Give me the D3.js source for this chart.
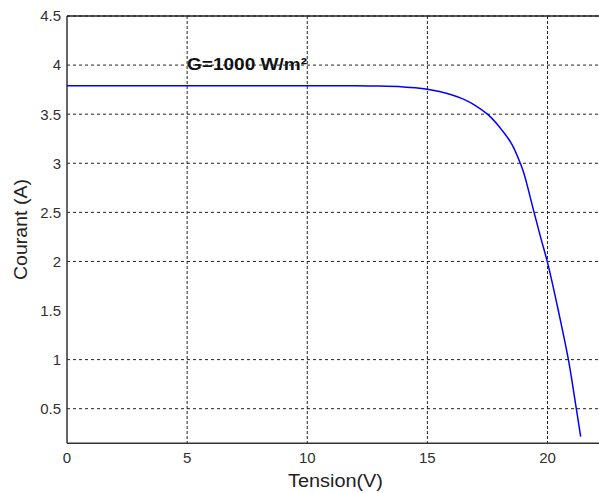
<!DOCTYPE html>
<html>
<head>
<meta charset="utf-8">
<script src="https://cdn.jsdelivr.net/npm/d3@7"></script>
<style>
  body { margin: 0; background: #fff; }
  svg { display: block; font-family: "Liberation Sans", Arial, sans-serif; }
</style>
</head>
<body>
<div id="graph"></div>
<script>
// I-V curve of the panel
let tension = [0, 5, 10, 12, 13, 14, 14.5, 15, 15.5, 16, 16.5, 17, 17.5, 18, 18.5, 18.87, 19.0, 19.15, 19.43, 19.72, 20.02, 20.45, 20.87, 21.2, 21.38];
let courant = [3.79, 3.79, 3.79, 3.789, 3.786, 3.778, 3.77, 3.755, 3.73, 3.698, 3.653, 3.588, 3.5, 3.37, 3.2, 3.0, 2.91, 2.78, 2.51, 2.24, 1.97, 1.5, 1.0, 0.5, 0.215];

let xTicks = [0, 5, 10, 15, 20];
let xGrid = [5, 10, 15, 20];
let yTicks = [0.5, 1, 1.5, 2, 2.5, 3, 3.5, 4, 4.5];
let yGrid = [0.5, 1, 2, 2.5, 3, 3.5, 4, 4.5];   // the 1.5 line is missing in the original

let label = "G=1000 W/m²";

let width = 599,
    height = 493;

let x = d3.scaleLinear().domain([0, 20]).range([67, 547.5]);
let y = d3.scaleLinear().domain([0.5, 4.5]).range([408.7, 16]);
let yBottom = y(0.147);

let svg = d3.select("#graph").append("svg")
    .attr("width", width)
    .attr("height", height);

// grid
svg.append("g").selectAll("line")
    .data(yGrid)
    .enter().append("line")
    .attr("x1", x(0))
    .attr("x2", width)
    .attr("y1", d => y(d))
    .attr("y2", d => y(d))
    .attr("stroke", "#222")
    .attr("stroke-width", 1)
    .attr("stroke-dasharray", "3,3");

svg.append("g").selectAll("line")
    .data(xGrid)
    .enter().append("line")
    .attr("x1", d => x(d))
    .attr("x2", d => x(d))
    .attr("y1", y(4.5))
    .attr("y2", yBottom)
    .attr("stroke", "#222")
    .attr("stroke-width", 1)
    .attr("stroke-dasharray", "3,2");

// box
svg.append("line")
    .attr("x1", x(0)).attr("x2", x(0))
    .attr("y1", y(4.5)).attr("y2", yBottom)
    .attr("stroke", "#333").attr("stroke-width", 1.5);
svg.append("line")
    .attr("x1", x(0)).attr("x2", width)
    .attr("y1", y(4.5)).attr("y2", y(4.5))
    .attr("stroke", "#222").attr("stroke-width", 1.5);
svg.append("line")
    .attr("x1", x(0)).attr("x2", width)
    .attr("y1", yBottom).attr("y2", yBottom)
    .attr("stroke", "#333").attr("stroke-width", 1.5);

// tick labels
svg.append("g").selectAll("text")
    .data(yTicks)
    .enter().append("text")
    .attr("x", 61)
    .attr("y", d => y(d))
    .attr("dy", "0.36em")
    .attr("text-anchor", "end")
    .attr("font-size", 15)
    .attr("fill", "#303030")
    .text(d => d);

svg.append("g").selectAll("text")
    .data(xTicks)
    .enter().append("text")
    .attr("x", d => x(d))
    .attr("y", 463)
    .attr("text-anchor", "middle")
    .attr("font-size", 15)
    .attr("fill", "#303030")
    .text(d => d);

// axis titles
svg.append("text")
    .attr("x", 288)
    .attr("y", 487)
    .attr("font-size", 18)
    .attr("textLength", 95)
    .attr("lengthAdjust", "spacingAndGlyphs")
    .attr("fill", "#222")
    .text("Tension(V)");

svg.append("text")
    .attr("transform", "translate(27,229.5)rotate(-90)")
    .attr("text-anchor", "middle")
    .attr("font-size", 18)
    .attr("textLength", 101)
    .attr("lengthAdjust", "spacingAndGlyphs")
    .attr("fill", "#222")
    .text("Courant (A)");

// curve
let line = d3.line()
    .x(d => x(d[0]))
    .y(d => y(d[1]))
    .curve(d3.curveCatmullRom.alpha(0.5));

svg.append("path")
    .datum(d3.zip(tension, courant))
    .attr("d", line)
    .attr("fill", "none")
    .attr("stroke", "#0000ff")
    .attr("stroke-width", 1.5);

// annotation
svg.append("text")
    .attr("x", 187)
    .attr("y", 70)
    .attr("font-size", 17)
    .attr("font-weight", "bold")
    .attr("textLength", 120)
    .attr("lengthAdjust", "spacingAndGlyphs")
    .attr("fill", "#111")
    .text(label);
</script>
</body>
</html>
